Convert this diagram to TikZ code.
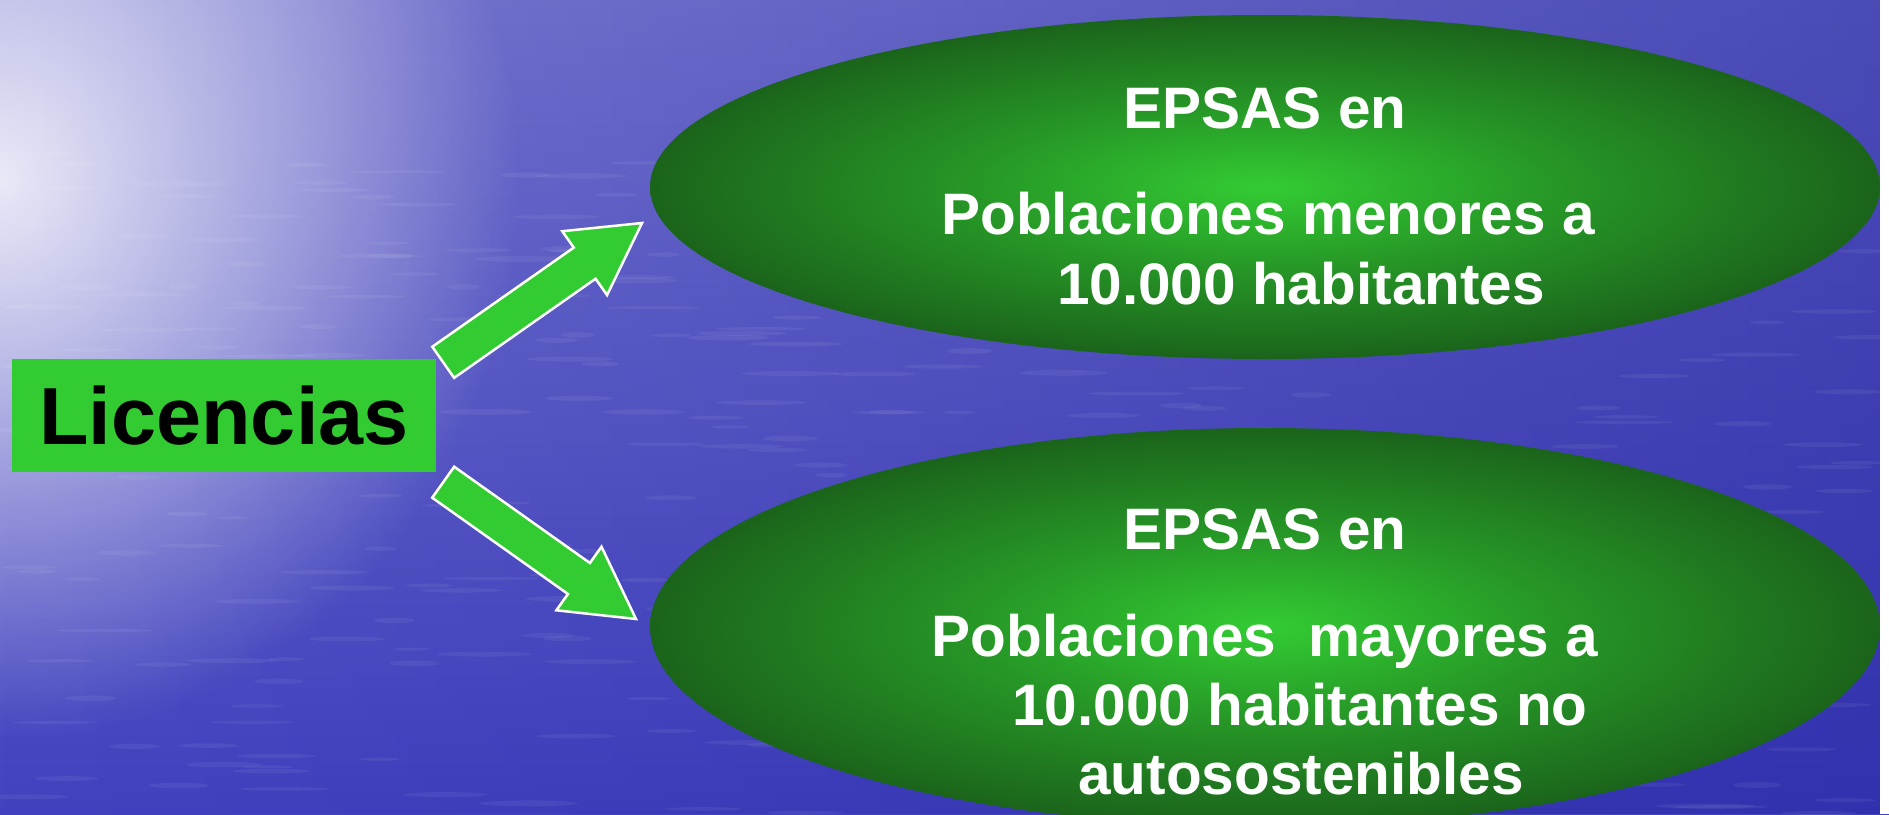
\documentclass[tikz,border=0pt]{standalone}
\usepackage{fontspec}
\setmainfont{Liberation Sans}
\usetikzlibrary{calc,shapes.geometric,fadings}
\definecolor{lime}{RGB}{50,204,50}
\definecolor{gA}{RGB}{51,204,51}
\definecolor{gB}{RGB}{38,150,38}
\definecolor{gC}{RGB}{27,100,27}
\definecolor{bgTop}{RGB}{122,122,210}
\definecolor{bgBot}{RGB}{66,66,192}
\definecolor{bgDark}{RGB}{36,36,160}
\pgfdeclareradialshading{ellgreen}{\pgfpoint{0bp}{0bp}}{color(0bp)=(gA); color(12bp)=(gB); color(25bp)=(gC); color(50bp)=(gC)}
\tikzfading[name=glowfade, inner color=transparent!15, outer color=transparent!100]
\tikzfading[name=hfade, left color=transparent!100, right color=transparent!45]
\newcommand\fatarrow[3]{%
  \coordinate (#1b) at ($(#3)!70pt!(#2)$);
  \draw[blockarrow] ($(#2)!19pt!90:(#3)$) -- ($(#1b)!19pt!90:(#3)$) -- ($(#1b)!39pt!90:(#3)$) -- (#3)
    -- ($(#1b)!39pt!-90:(#3)$) -- ($(#1b)!19pt!-90:(#3)$) -- ($(#2)!19pt!-90:(#3)$) -- cycle;}
\begin{document}
\begin{tikzpicture}[x=1pt,y=-1pt,
  ell/.style={ellipse, draw=none, inner sep=0pt, minimum width=1230pt, shade, shading=ellgreen},
  lbl/.style={anchor=base, text=white, font=\fontsize{58.5}{70}\selectfont\bfseries, inner sep=0pt},
  blockarrow/.style={fill=lime, draw=white, line width=2.5pt, line join=miter},
  licbox/.style={fill=lime, minimum width=424pt, minimum height=113pt, inner sep=0pt,
    font=\fontsize{81}{90}\selectfont\bfseries, text=black}
]
\useasboundingbox (0,0) rectangle (1889,814);
% background
\shade[top color=bgTop, bottom color=bgBot] (0,0) rectangle (1889,814);
\fill[bgDark, path fading=hfade] (0,0) rectangle (1889,814);
\fill[white, path fading=glowfade] (0,180) ellipse (520 and 560);
\pgfmathsetseed{11}
\foreach \i in {1,...,320}{
  \fill[white, opacity=0.06] (rnd*1880, 150+rnd*664) ellipse (15+rnd*35 and 1.5+rnd*1.5);
}
\fill[white] (1880,0) rectangle (1889,814);
% ellipses
\node[ell, minimum height=344pt] (e1) at (1265,187) {};
\node[ell, minimum height=398pt] (e2) at (1265,627) {};
\node[lbl] (t1a) at (1265,128) {EPSAS en};
\node[lbl] (t1b) at (1268,234) {Poblaciones menores a};
\node[lbl] (t1c) at (1301,304) {10.000 habitantes};
\node[lbl] (t2a) at (1265,549) {EPSAS en};
\node[lbl] (t2b) at (1265,656) {Poblaciones~ mayores a};
\node[lbl] (t2c) at (1300,725) {10.000 habitantes no};
\node[lbl] (t2d) at (1301,794) {autosostenibles};
% Licencias box
\node[licbox] (lic) at (224,415.5) {Licencias};
% arrows
\coordinate (a1t) at ($(lic.north east)+(7,3.5)$);
\coordinate (a1h) at (642,223);
\coordinate (a2t) at ($(lic.south east)+(7,10)$);
\coordinate (a2h) at (636,619);
\fatarrow{a1}{a1t}{a1h}
\fatarrow{a2}{a2t}{a2h}
\end{tikzpicture}
\end{document}
